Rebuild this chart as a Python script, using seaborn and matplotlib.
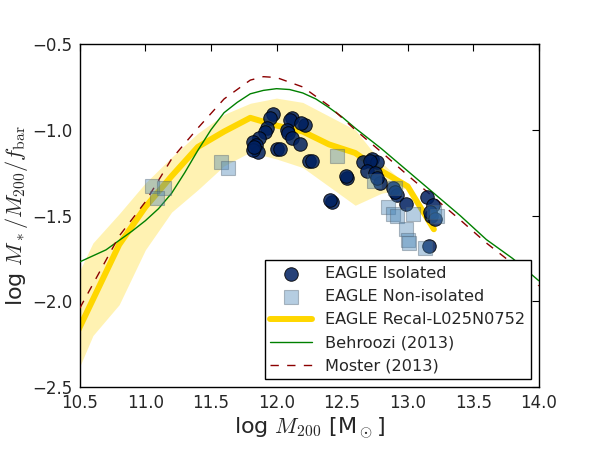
import numpy as np
import pandas as pd
import matplotlib
matplotlib.use("Agg")
import matplotlib.pyplot as plt
import seaborn as sns

# EAGLE isolated galaxies (log M200, log M*/M200/fbar)
iso_x = [11.97, 11.95, 12.12, 12.10, 12.22, 12.19, 11.93, 11.91, 12.08, 12.09,
         11.87, 11.82, 11.84, 12.12, 12.18, 12.00, 12.03, 11.86, 11.82, 11.83,
         12.25, 12.27, 12.54, 12.53, 12.42, 12.41, 12.66, 12.73, 12.77, 12.71,
         12.69, 12.75, 12.79, 12.77, 12.89, 12.92, 12.90, 12.99, 13.15, 13.19,
         13.18, 13.17, 13.21, 13.16]
iso_y = [-0.91, -0.93, -0.93, -0.94, -0.97, -0.96, -0.99, -1.01, -1.00, -1.02,
         -1.05, -1.07, -1.09, -1.05, -1.08, -1.11, -1.11, -1.13, -1.12, -1.10,
         -1.18, -1.18, -1.28, -1.27, -1.42, -1.41, -1.19, -1.17, -1.19, -1.18,
         -1.24, -1.25, -1.31, -1.28, -1.34, -1.38, -1.36, -1.43, -1.39, -1.44,
         -1.50, -1.48, -1.52, -1.68]

# EAGLE non-isolated galaxies
non_x = [11.05, 11.14, 11.09, 11.58, 11.63, 12.46, 12.74, 12.90, 12.85, 12.89,
         12.92, 13.04, 12.99, 13.00, 13.01, 13.13, 13.22, 13.20]
non_y = [-1.33, -1.34, -1.40, -1.19, -1.22, -1.15, -1.30, -1.34, -1.45, -1.49,
         -1.50, -1.49, -1.58, -1.64, -1.66, -1.69, -1.50, -1.48]

# Recal-L025N0752 median and scatter
recal_x = [10.4, 10.6, 10.8, 11.0, 11.2, 11.4, 11.6, 11.8, 12.0, 12.2, 12.4,
           12.6, 12.8, 13.0, 13.2]
recal_med = [-2.31, -1.99, -1.67, -1.45, -1.27, -1.10, -1.01, -0.93, -0.975,
             -1.01, -1.085, -1.135, -1.24, -1.33, -1.58]
recal_hi = [-1.98, -1.66, -1.49, -1.31, -1.16, -1.02, -0.91, -0.845, -0.815,
            -0.84, -0.92, -1.00, -1.19, -1.33, -1.58]
recal_lo = [-2.56, -2.20, -2.02, -1.70, -1.48, -1.35, -1.21, -1.13, -1.17,
            -1.22, -1.33, -1.44, -1.37, -1.34, -1.58]

# Behroozi (2013)
beh_x = [10.5, 10.7, 10.9, 11.0, 11.1, 11.2, 11.3, 11.4, 11.5, 11.6, 11.7,
         11.8, 11.9, 12.0, 12.1, 12.2, 12.3, 12.4, 12.5, 12.6, 12.8, 13.0,
         13.2, 13.4, 13.6, 13.8, 14.0]
beh_y = [-1.77, -1.70, -1.59, -1.53, -1.46, -1.37, -1.25, -1.12, -1.00, -0.90,
         -0.84, -0.79, -0.77, -0.76, -0.765, -0.785, -0.82, -0.87, -0.925,
         -0.99, -1.11, -1.24, -1.37, -1.50, -1.64, -1.75, -1.88]

# Moster (2013)
mos_x = [10.5, 10.6, 10.8, 11.0, 11.2, 11.4, 11.6, 11.8, 11.9, 12.0, 12.2,
         12.4, 12.6, 12.8, 13.0, 13.2, 13.4, 13.6, 13.8, 14.0]
mos_y = [-2.04, -1.90, -1.62, -1.42, -1.17, -0.99, -0.82, -0.71, -0.69,
         -0.695, -0.75, -0.86, -1.00, -1.13, -1.265, -1.395, -1.525, -1.66,
         -1.78, -1.91]

sns.set_style("white")
plt.rcParams["mathtext.fontset"] = "cm"
plt.rcParams["font.family"] = ["DejaVu Sans"]

fig, ax = plt.subplots(figsize=(6, 4.5), dpi=100)
fig.subplots_adjust(left=0.133, right=0.898, bottom=0.14, top=0.902)

iso = pd.DataFrame({"x": iso_x, "y": iso_y})
non = pd.DataFrame({"x": non_x, "y": non_y})
recal = pd.DataFrame({"x": recal_x, "y": recal_med})
beh = pd.DataFrame({"x": beh_x, "y": beh_y})
mos = pd.DataFrame({"x": mos_x, "y": mos_y})

# scatter band + median line
ax.fill_between(recal_x, recal_lo, recal_hi, color="gold", alpha=0.3,
                linewidth=0, zorder=1)
sns.lineplot(data=recal, x="x", y="y", color="gold", linewidth=4.3,
             label="EAGLE Recal-L025N0752", ax=ax, zorder=2)
sns.lineplot(data=beh, x="x", y="y", color="green", linewidth=1.0,
             label="Behroozi (2013)", ax=ax, zorder=3)
sns.lineplot(data=mos, x="x", y="y", color="darkred", linewidth=1.0,
             label="Moster (2013)", ax=ax, zorder=3)
ax.lines[-1].set_dashes((6, 6))

sns.scatterplot(data=iso, x="x", y="y", marker="o", s=95, color="#002060",
                alpha=0.85, edgecolor="black", linewidth=0.7,
                label="EAGLE Isolated", ax=ax, zorder=4)
sns.scatterplot(data=non, x="x", y="y", marker="s", s=88, color="steelblue",
                alpha=0.4, edgecolor="#506070", linewidth=0.8,
                label="EAGLE Non-isolated", ax=ax, zorder=5)

ax.set_xlim(10.5, 14.0)
ax.set_ylim(-2.5, -0.5)
ax.set_xticks(np.arange(10.5, 14.01, 0.5))
ax.set_yticks(np.arange(-2.5, -0.49, 0.5))
ax.tick_params(direction="in", top=True, right=True, length=5, width=0.8,
               labelsize=12, color="black", pad=5)
for sp in ax.spines.values():
    sp.set_color("black")
    sp.set_linewidth(1.0)

ax.set_xlabel(r"log $M_{200}$ [M$_\odot$]", fontsize=16, labelpad=2)
ax.set_ylabel(r"log $M_*/M_{200}/f_{\rm bar}$", fontsize=16, labelpad=2)

h, l = ax.get_legend_handles_labels()
order = ["EAGLE Isolated", "EAGLE Non-isolated", "EAGLE Recal-L025N0752",
         "Behroozi (2013)", "Moster (2013)"]
hd = dict(zip(l, h))
leg = ax.legend([hd[k] for k in order], order, loc="lower right",
                fontsize=11.6, scatterpoints=1, handlelength=2.6,
                fancybox=False, framealpha=1, edgecolor="black",
                borderaxespad=0.5, labelspacing=0.5, borderpad=0.35)
leg.get_frame().set_linewidth(1.0)

plt.savefig("out.png", dpi=100)
